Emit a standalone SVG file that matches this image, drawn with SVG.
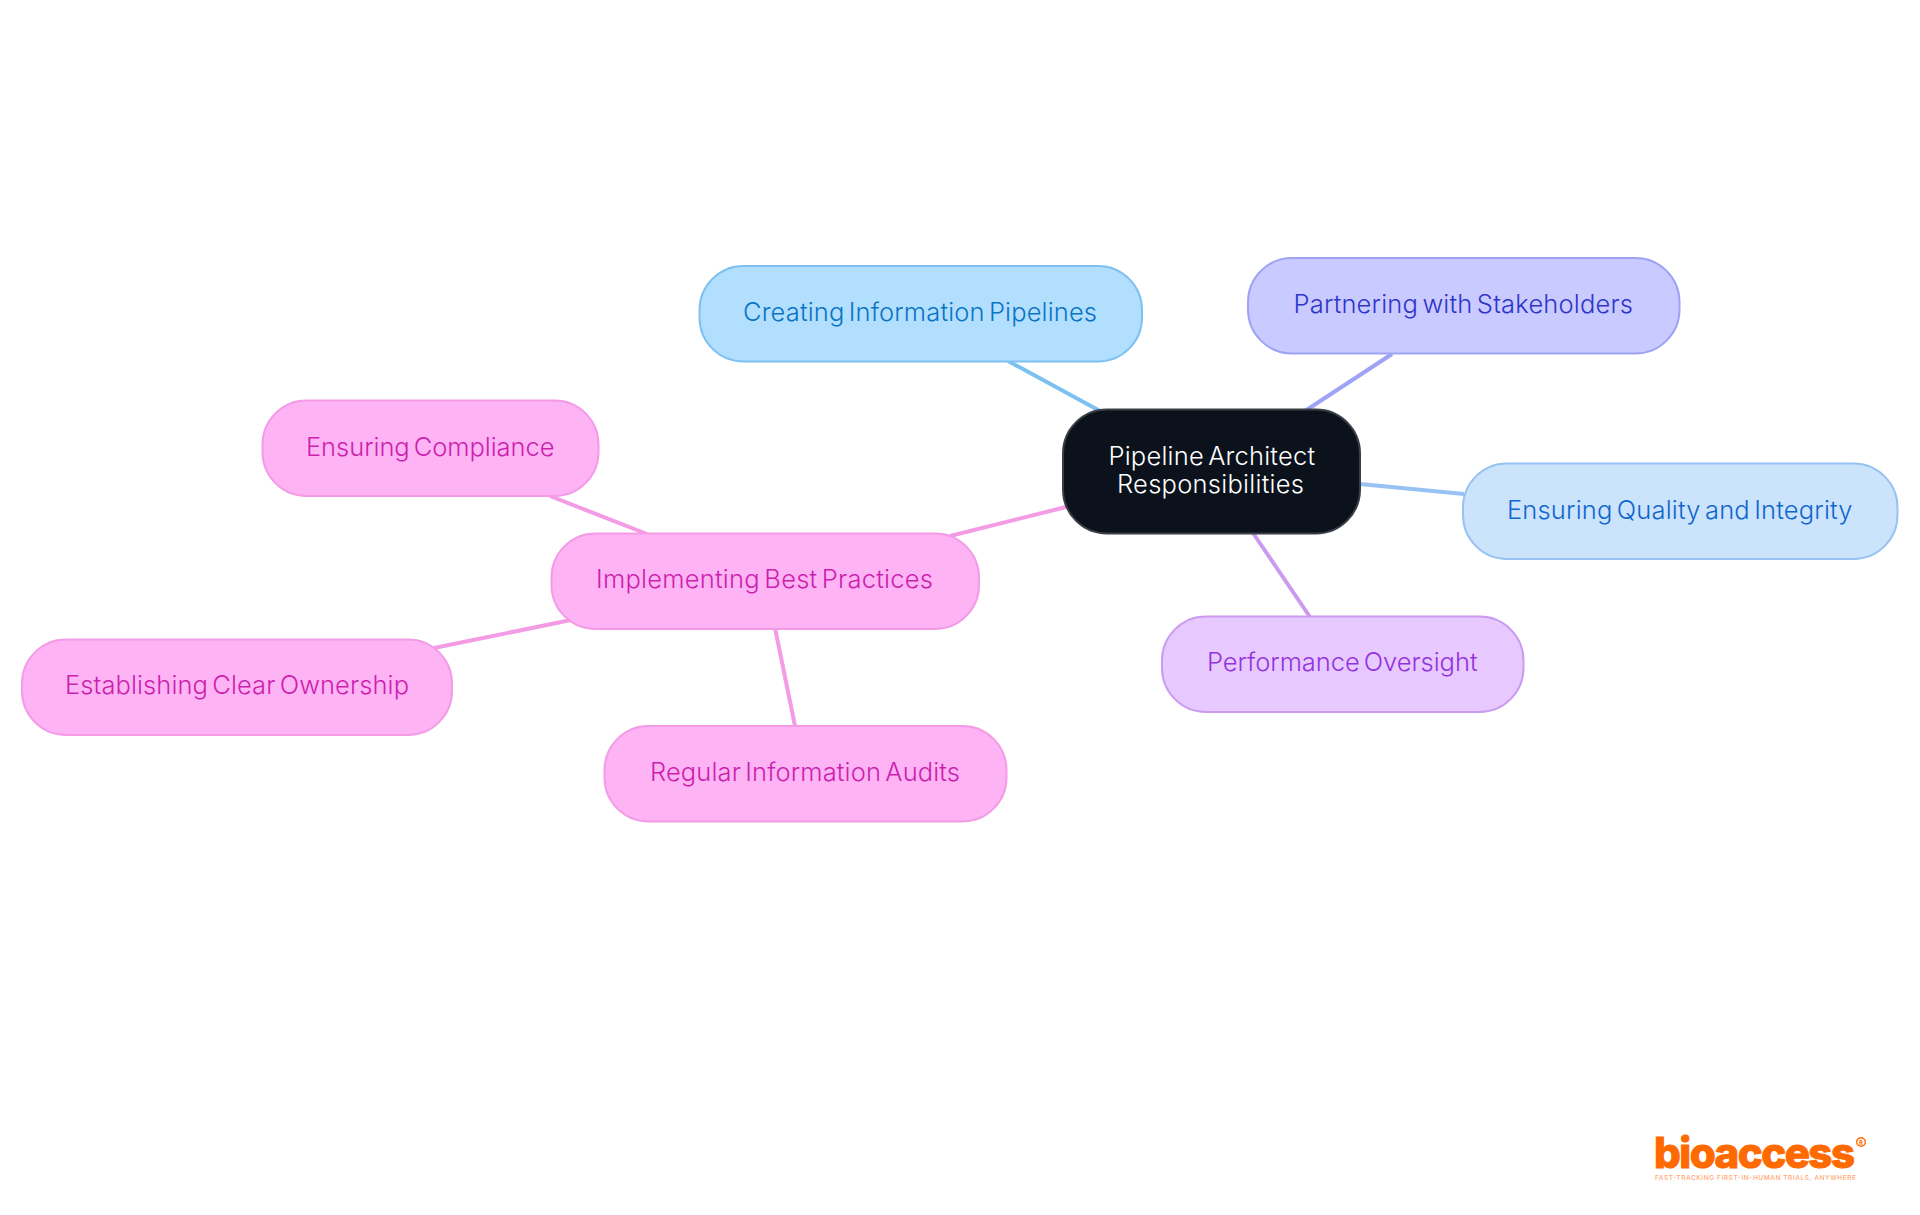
<svg xmlns="http://www.w3.org/2000/svg" width="1920" height="1215" viewBox="0 0 1920 1215">
<style>
text{font-family:"Inter","Noto Sans",sans-serif;font-size:25.5px;font-weight:350;word-spacing:-3px}
.n{stroke-width:2}
.c{fill:none;stroke-width:4}
.blue{fill:#b3dfff;stroke:#7dc1f2}.blue+text{fill:#0a74c4}
.ind{fill:#c9caff;stroke:#9fa3f5}.ind+text{fill:#2f35c9}
.sky{fill:#cce3fc;stroke:#98c2f3}.sky+text{fill:#0f67cf}
.pur{fill:#e7c9ff;stroke:#cb9bf0}.pur+text{fill:#9333dd}
.pnk{fill:#feb3f5;stroke:#f49be6}.pnk+text{fill:#cc1fae}
</style>
<rect width="1920" height="1215" fill="#ffffff"/>
<g id="connectors">
<line class="c" x1="1008" y1="361" x2="1100" y2="411" stroke="#7dc1f2"/>
<line class="c" x1="1392" y1="354" x2="1305" y2="411" stroke="#9fa3f5"/>
<line class="c" x1="1360" y1="484" x2="1464" y2="494" stroke="#98c2f3"/>
<line class="c" x1="1253" y1="533" x2="1310" y2="617" stroke="#cb9bf0"/>
<line class="c" x1="950" y1="536" x2="1066" y2="507" stroke="#f49be6"/>
<line class="c" x1="550" y1="496" x2="647" y2="534" stroke="#f49be6"/>
<line class="c" x1="434" y1="648" x2="571" y2="620" stroke="#f49be6"/>
<line class="c" x1="775" y1="628" x2="795" y2="726" stroke="#f49be6"/>
</g>
<g id="node-center">
<rect class="n" x="1063" y="409.5" width="297" height="124" rx="44" fill="#0b121b" stroke="#3a3f47"/>
<text x="1108.5" y="465" textLength="206.5" style="fill:#ffffff">Pipeline Architect</text>
<text x="1117" y="493" textLength="187" style="fill:#ffffff">Responsibilities</text>
</g>
<g id="node-creating">
<rect class="n blue" x="699.5" y="266" width="442.5" height="95.5" rx="44"/>
<text x="743" y="321" textLength="354">Creating Information Pipelines</text>
</g>
<g id="node-partnering">
<rect class="n ind" x="1248" y="258" width="431.5" height="95.5" rx="44"/>
<text x="1293.5" y="313" textLength="339.5">Partnering with Stakeholders</text>
</g>
<g id="node-quality">
<rect class="n sky" x="1463" y="463.5" width="434.5" height="95.5" rx="44"/>
<text x="1507" y="519" textLength="345.5">Ensuring Quality and Integrity</text>
</g>
<g id="node-performance">
<rect class="n pur" x="1162" y="616.5" width="361.5" height="95.5" rx="44"/>
<text x="1207" y="670.5" textLength="270.5">Performance Oversight</text>
</g>
<g id="node-implementing">
<rect class="n pnk" x="551.5" y="533.5" width="427.5" height="95.5" rx="44"/>
<text x="596" y="588" textLength="337">Implementing Best Practices</text>
</g>
<g id="node-compliance">
<rect class="n pnk" x="262.5" y="400.5" width="336" height="95.5" rx="44"/>
<text x="306" y="455.5" textLength="248.5">Ensuring Compliance</text>
</g>
<g id="node-ownership">
<rect class="n pnk" x="22" y="639.5" width="430" height="95.5" rx="44"/>
<text x="65" y="694" textLength="344">Establishing Clear Ownership</text>
</g>
<g id="node-audits">
<rect class="n pnk" x="604.5" y="726" width="402" height="95.5" rx="44"/>
<text x="650" y="780.5" textLength="310">Regular Information Audits</text>
</g>
<g id="logo">
<text x="1654" y="1168" textLength="201" lengthAdjust="spacing" style="font-size:42px;font-weight:800;word-spacing:0;fill:#ff6a00;stroke:#ff6a00;stroke-width:1">bioaccess</text>
<circle cx="1861" cy="1142" r="4.3" fill="none" stroke="#ff6a00" stroke-width="1.4"/>
<text x="1861" y="1144.5" text-anchor="middle" style="font-size:6px;font-weight:700;word-spacing:0;fill:#ff6a00">R</text>
<text x="1655" y="1180" textLength="201" lengthAdjust="spacing" style="font-size:6.5px;font-weight:500;word-spacing:0;fill:#ffa873">FAST-TRACKING FIRST-IN-HUMAN TRIALS, ANYWHERE</text>
</g>
</svg>
